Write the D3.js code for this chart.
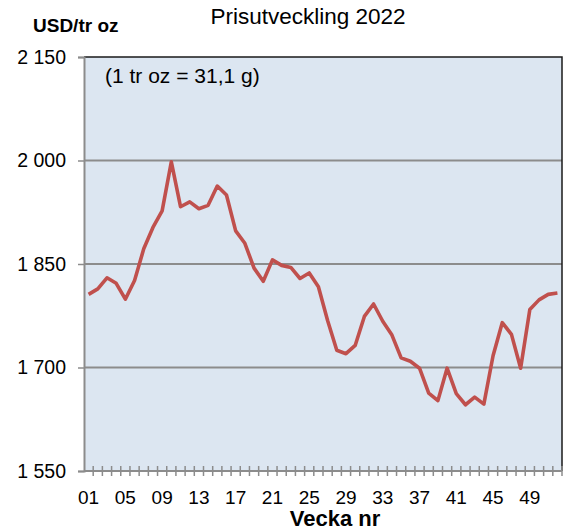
<!DOCTYPE html>
<html>
<head>
<meta charset="utf-8">
<script src="https://cdn.jsdelivr.net/npm/d3@7"></script>
<style>
    body { margin: 0; background: white; }
    svg { font-family: 'Liberation Sans', Arial, sans-serif; }
</style>
</head>
<body>
<div id="chart"></div>
<script>
var weeks = d3.range(1, 53).map(function (w) { return w < 10 ? '0' + w : '' + w })
var prices = [
    1806, 1814, 1830, 1822, 1799, 1826, 1872, 1903, 1927, 1998,
    1933, 1940, 1930, 1935, 1963, 1950, 1898, 1880, 1844, 1825,
    1856, 1848, 1845, 1829, 1837, 1817, 1768, 1725, 1720, 1732,
    1774, 1792, 1767, 1747, 1714, 1709, 1699, 1663, 1652, 1699,
    1662, 1646, 1657, 1647, 1717, 1765, 1748, 1699, 1784, 1798,
    1806, 1808
]
var yTicks = [1550, 1700, 1850, 2000, 2150]
var title = 'Prisutveckling 2022'
var unitLabel = 'USD/tr oz'
var note = '(1 tr oz = 31,1 g)'
var xTitle = 'Vecka nr'

var layout = { width: 566, height: 532, left: 84, right: 4, top: 57, bottom: 61 }
var innerW = layout.width - layout.left - layout.right
var innerH = layout.height - layout.top - layout.bottom

var svg = d3.select('#chart').append('svg')
    .attr('width', layout.width)
    .attr('height', layout.height)

var x = d3.scaleBand().domain(weeks).range([0, innerW])
var y = d3.scaleLinear().domain([1550, 2150]).range([innerH, 0])

var g = svg.append('g')
    .attr('transform', 'translate(' + layout.left + ',' + layout.top + ')')

g.append('rect')
    .attr('width', innerW)
    .attr('height', innerH)
    .attr('fill', '#dce6f1')

// gridlines
g.selectAll('.grid')
    .data(yTicks.slice(1, -1))
    .enter().append('line')
    .attr('x1', 0).attr('x2', innerW)
    .attr('y1', function (d) { return y(d) }).attr('y2', function (d) { return y(d) })
    .attr('stroke', '#8c8c8c').attr('stroke-width', 2)

// top and right border
g.append('path')
    .attr('d', 'M0,0H' + innerW + 'V' + innerH)
    .attr('fill', 'none').attr('stroke', '#1a1a1a').attr('stroke-width', 1.5)

// y axis
var yAxis = g.append('g')
    .call(d3.axisLeft(y).tickValues(yTicks).tickSize(6).tickPadding(12)
        .tickFormat(function (d) { return d3.format(',')(d).replace(',', ' ') }))
yAxis.select('.domain').attr('stroke', '#8c8c8c').attr('stroke-width', 2)
yAxis.selectAll('.tick line').attr('stroke', '#8c8c8c').attr('stroke-width', 1.5)
yAxis.selectAll('text').attr('font-size', 19.5).attr('fill', '#000').attr('font-family', 'Liberation Sans, Arial, sans-serif')

// x axis with cross ticks at category boundaries
var xAxis = g.append('g').attr('transform', 'translate(0,' + innerH + ')')
xAxis.append('line')
    .attr('x1', 0).attr('x2', innerW)
    .attr('stroke', '#8c8c8c').attr('stroke-width', 2)
xAxis.selectAll('.xtick')
    .data(weeks)
    .enter().append('line')
    .attr('x1', function (d) { return x(d) + x.bandwidth() }).attr('x2', function (d) { return x(d) + x.bandwidth() })
    .attr('y1', -5).attr('y2', 5)
    .attr('stroke', '#8c8c8c').attr('stroke-width', 1.5)
xAxis.selectAll('.xlabel')
    .data(weeks.filter(function (d, i) { return i % 4 === 0 }))
    .enter().append('text')
    .attr('x', function (d) { return x(d) + x.bandwidth() / 2 })
    .attr('y', 33)
    .attr('text-anchor', 'middle')
    .attr('font-size', 19)
    .text(function (d) { return d })

// line
var line = d3.line()
    .x(function (d, i) { return x(weeks[i]) + x.bandwidth() / 2 })
    .y(function (d) { return y(d) })
g.append('path')
    .datum(prices)
    .attr('d', line)
    .attr('fill', 'none')
    .attr('stroke', '#c0504d')
    .attr('stroke-width', 3.6)
    .attr('stroke-linejoin', 'round')

// texts
svg.append('text')
    .attr('x', 308).attr('y', 24)
    .attr('text-anchor', 'middle')
    .attr('font-size', 22.5)
    .text(title)

svg.append('text')
    .attr('x', 33).attr('y', 32)
    .attr('font-size', 19)
    .attr('font-weight', 'bold')
    .text(unitLabel)

g.append('text')
    .attr('x', 21).attr('y', 26)
    .attr('font-size', 21)
    .text(note)

svg.append('text')
    .attr('x', 335).attr('y', 526)
    .attr('text-anchor', 'middle')
    .attr('font-size', 22)
    .attr('font-weight', 'bold')
    .text(xTitle)
</script>
</body>
</html>
